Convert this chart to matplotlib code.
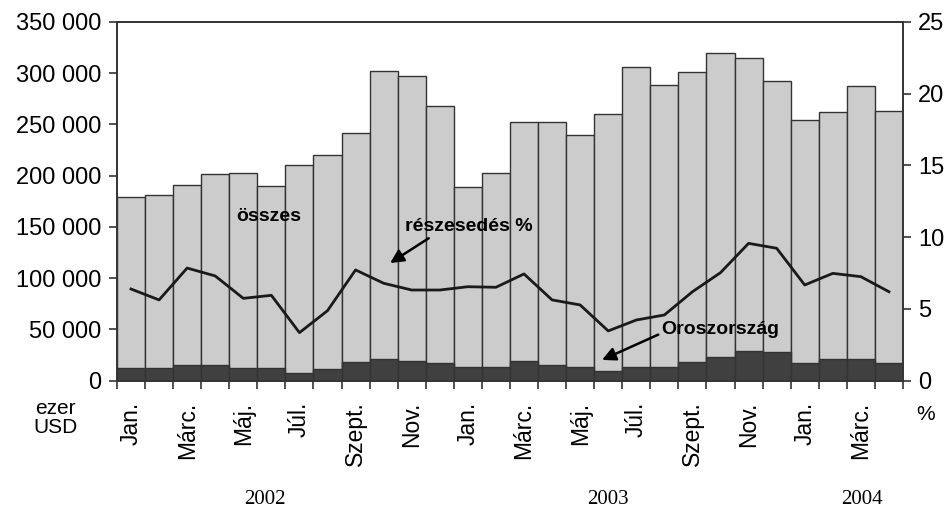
import matplotlib
matplotlib.use("Agg")
import matplotlib.pyplot as plt
import numpy as np

months = ["Jan.", "Febr.", "Márc.", "Ápr.", "Máj.", "Jún.", "Júl.", "Aug.", "Szept.", "Okt.", "Nov.", "Dec."]
categories = months * 2 + months[:4]
years = ["2002", "2003", "2004"]

osszes = [178900, 181100, 190800, 201600, 202200, 190200, 210600, 220100, 241800, 302200, 296800, 267800,
          188900, 202800, 251900, 251900, 239600, 259700, 305800, 288000, 301000, 319800, 314600, 292200,
          253900, 262000, 287300, 263000]
oroszorszag = [12200, 12200, 15400, 15400, 12800, 12800, 7600, 11500, 18300, 21500, 19000, 17300,
               13100, 13100, 19300, 15400, 13100, 9500, 13100, 13100, 18600, 22900, 29000, 27800,
               17300, 21500, 21500, 17000]
reszesedes = [6.39, 5.63, 7.85, 7.30, 5.74, 5.95, 3.35, 4.88, 7.72, 6.79, 6.32, 6.32,
              6.55, 6.51, 7.44, 5.63, 5.28, 3.47, 4.23, 4.58, 6.20, 7.53, 9.57, 9.23,
              6.67, 7.48, 7.25, 6.20]

plt.rcParams['font.family'] = ['Liberation Sans', 'DejaVu Sans']

fig = plt.figure(figsize=(9.51, 5.09), dpi=100)
ax = fig.add_axes([0.123, 0.252, 0.8265, 0.705])
x = np.arange(len(categories))

ax.bar(x, osszes, width=1.0, color="#cccccc", edgecolor="#333333", linewidth=1.0, zorder=2)
ax.bar(x, oroszorszag, width=1.0, color="#404040", edgecolor="#333333", linewidth=1.0, zorder=3)

ax.set_xlim(-0.5, len(categories) - 0.5)
ax.set_ylim(0, 350000)
ax.set_yticks(np.arange(0, 350001, 50000))
ax.set_yticklabels([f"{v:,}".replace(",", " ") for v in range(0, 350001, 50000)], fontsize=17)
ax.tick_params(axis='y', length=6, width=1.2, color="#333333", pad=5)

edges = np.arange(len(categories) + 1) - 0.5
ax.set_xticks(edges)
ax.set_xticklabels([])
ax.tick_params(axis='x', which='major', length=6, width=1.2, color="#333333")
lab_idx = [i for i in range(len(categories)) if i % 2 == 0]
ax.set_xticks(lab_idx, minor=True)
ax.set_xticklabels([categories[i] for i in lab_idx], minor=True, rotation=90, fontsize=16.5, va='top')
ax.tick_params(axis='x', which='minor', length=0, pad=15)

for s in ax.spines.values():
    s.set_color("#333333")
    s.set_linewidth(1.2)

ax2 = ax.twinx()
ax2.plot(x, reszesedes, color="#1a1a1a", linewidth=2.0, zorder=5)
ax2.set_ylim(0, 25)
ax2.set_yticks(np.arange(0, 26, 5))
ax2.set_yticklabels([str(v) for v in range(0, 26, 5)], fontsize=17)
ax2.tick_params(axis='y', length=6, width=1.2, color="#333333", pad=5)
for s in ax2.spines.values():
    s.set_color("#333333")
    s.set_linewidth(1.2)

ax.text(3.74, 160600, "összes", fontsize=14, fontweight='bold', va='center', ha='left', zorder=6)
ax.annotate("részesedés %", xy=(9.23, 114800), xytext=(9.76, 150000),
            fontsize=14, fontweight='bold', va='center', ha='left', zorder=6,
            arrowprops=dict(arrowstyle='-|>', lw=1.8, color='black', mutation_scale=20,
                            shrinkA=0, shrinkB=0, relpos=(0.22, 0.0)))
ax.annotate("Oroszország", xy=(16.78, 20300), xytext=(18.88, 49500),
            fontsize=14, fontweight='bold', va='center', ha='left', zorder=6,
            arrowprops=dict(arrowstyle='-|>', lw=1.8, color='black', mutation_scale=20,
                            shrinkA=0, shrinkB=0, relpos=(0.0, 0.3)))

fig.text(0.058, 0.179, "ezer\nUSD", fontsize=15, ha='center', va='center', linespacing=1.0)
fig.text(0.973, 0.185, "%", fontsize=15, ha='center', va='center')

year_x = [265 / 951, 608 / 951, 862 / 951]
for yx, yl in zip(year_x, years):
    fig.text(yx, 0.018, yl, fontsize=15, ha='center', va='center', family=['Liberation Serif', 'DejaVu Serif'])

fig.savefig("out.png", dpi=100)
